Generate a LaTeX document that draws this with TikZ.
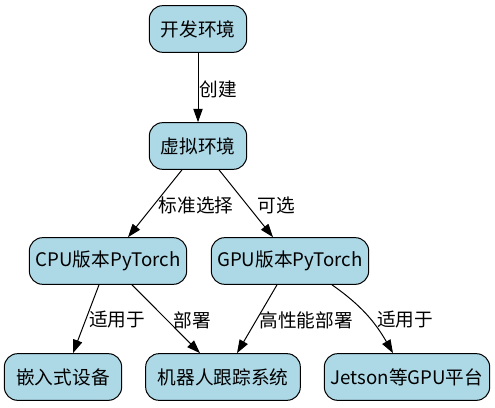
\documentclass[tikz,border=0pt]{standalone}
\usepackage{fontspec}
\setmainfont{Noto Sans CJK SC}
\usepackage{tikz}
\usetikzlibrary{arrows.meta,positioning,calc}
\definecolor{boxfill}{HTML}{ADD8E6}
\definecolor{edgeblack}{HTML}{000000}
\tikzset{
  envbox/.style={draw=edgeblack, line width=0.75pt, rounded corners=10pt, align=center, fill=boxfill, inner sep=0pt, minimum height=35pt},
  arrow/.style={-{Triangle[length=10pt, width=7pt]}, line width=0.75pt, draw=edgeblack},
  elabel/.style={inner sep=0pt}
}

\begin{document}
\begin{tikzpicture}[x=0.75pt, y=-0.75pt, font=\fontsize{14pt}{17pt}\selectfont]
  \useasboundingbox (0,0) rectangle (495,407);
  \node[envbox, minimum width=73pt] (devenv) at (198,29) {开发环境};
  \node[envbox, minimum width=73pt] (venv) at (198,146) {虚拟环境};
  \node[envbox, minimum width=118pt] (cpu) at (108,261) {CPU版本PyTorch};
  \node[envbox, minimum width=118pt] (gpu) at (290,261) {GPU版本PyTorch};
  \node[envbox, minimum width=88pt] (embedded) at (63,377) {嵌入式设备};
  \node[envbox, minimum width=116pt] (tracker) at (223,377) {机器人跟踪系统};
  \node[envbox, minimum width=124pt] (jetson) at (407,377) {Jetson等GPU平台};

  % edge labels
  \node[elabel] (lcreate) at (218,89) {创建};
  \node[elabel] (lstd) at (196,205) {标准选择};
  \node[elabel] (lopt) at (276,205) {可选};
  \node[elabel] (lembed) at (117,320) {适用于};
  \node[elabel] (ldeploy) at (192,320) {部署};
  \node[elabel] (lfast) at (306,320) {高性能部署};
  \node[elabel] (ljetson) at (405,320) {适用于};

  \draw[arrow] (devenv) -- (venv);
  \draw[arrow] ($(venv.south)+(-16,0)$) -- ($(cpu.north)+(20,0)$);
  \draw[arrow] ($(venv.south)+(21,0)$) -- ($(gpu.north)+(-17,0)$);
  \draw[arrow] ($(cpu.south)+(-9,0)$) -- ($(embedded.north)+(10,0)$);
  \draw[arrow] ($(cpu.south)+(24,0)$) -- ($(tracker.north)+(-23,0)$);
  \draw[arrow] ($(gpu.south)+(-13,0)$) -- ($(tracker.north)+(14,0)$);
  \draw[arrow] ($(gpu.south)+(42,0)$) to[out=-35, in=120] ($(jetson.north)+(-14,0)$);
\end{tikzpicture}
\end{document}
